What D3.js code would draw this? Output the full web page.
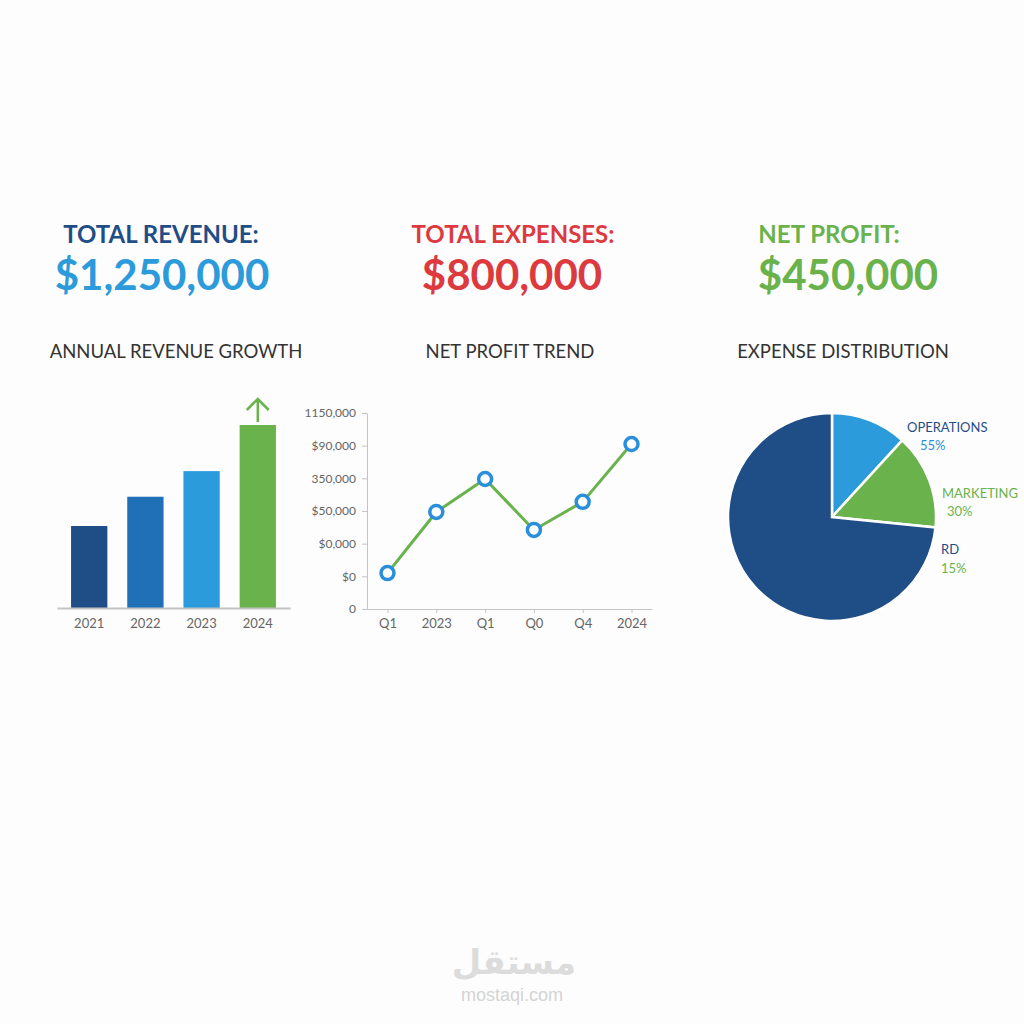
<!DOCTYPE html>
<html>
<head>
<meta charset="utf-8">
<script src="https://cdn.jsdelivr.net/npm/d3@7"></script>
<style>
  body { margin: 0; background: #fdfdfd; }
  svg { display: block; font-family: Lato, "Open Sans", sans-serif; }
  .axis path, .axis line { stroke: #c4c4c4; }
  .axis text { fill: #666; font-size: 13px; font-family: Lato, sans-serif; }
  .axis.ylab text { font-size: 12px; }
</style>
</head>
<body>
<div id="chart"></div>
<script>
// headline figures
var kpiTitles = ['TOTAL REVENUE:', 'TOTAL EXPENSES:', 'NET PROFIT:'];
var kpiValues = ['$1,250,000', '$800,000', '$450,000'];

// annual revenue growth (thousands)
var years = ['2021', '2022', '2023', '2024'];
var revenue = [560, 760, 935, 1250];

// net profit trend
var trendLabels = ['Q1', '2023', 'Q1', 'Q0', 'Q4', '2024'];
var trendValues = [110000, 297000, 398000, 242000, 328000, 505000];
var trendTicks = [0, 100000, 200000, 300000, 400000, 500000, 600000];
var trendTickLabels = ['0', '$0', '$0,000', '$50,000', '350,000', '$90,000', '1150,000'];

// expense distribution (slice sizes as drawn, labels as printed)
var expenseNames = ['OPERATIONS', 'MARKETING', 'RD'];
var expenseShares = [11.8, 14.8, 73.4];
var expenseLabels = ['55%', '30%', '15%'];

var darkBlue = '#1f4e87', midBlue = '#1f70b6', lightBlue = '#2b9bdb',
  green = '#6ab24c', red = '#dc3a3e';

var svg = d3.select('#chart').append('svg')
  .attr('width', 1024)
  .attr('height', 1024);

svg.append('rect').attr('width', 1024).attr('height', 1024).attr('fill', '#fdfdfd');

// ---- KPI header ----
var kpiX = [161, 513, 829];
var kpiValX = [162, 512, 848];
var titleColors = [darkBlue, red, green];
var valueColors = [lightBlue, red, green];
for (var i = 0; i < kpiTitles.length; i++) {
  svg.append('text')
    .attr('x', kpiX[i]).attr('y', 243)
    .attr('text-anchor', 'middle')
    .style('font-size', '24px').style('font-weight', 700)
    .style('fill', titleColors[i])
    .text(kpiTitles[i]);
  svg.append('text')
    .attr('x', kpiValX[i]).attr('y', 290)
    .attr('text-anchor', 'middle')
    .style('font-size', '42px').style('font-weight', 700)
    .style('fill', valueColors[i])
    .text(kpiValues[i]);
}

var subTitles = ['ANNUAL REVENUE GROWTH', 'NET PROFIT TREND', 'EXPENSE DISTRIBUTION'];
var subX = [176, 510, 843];
for (var i = 0; i < subTitles.length; i++) {
  svg.append('text')
    .attr('x', subX[i]).attr('y', 358)
    .attr('text-anchor', 'middle')
    .style('font-size', '18.5px')
    .style('fill', '#333')
    .text(subTitles[i]);
}

// ---- bar chart ----
var xb = d3.scaleBand().domain(years).range([57, 290]).paddingInner(0.354).paddingOuter(0.25);
var yb = d3.scaleLinear().domain([0, 1250]).range([608, 425]);
var barColors = [darkBlue, midBlue, lightBlue, green];

svg.selectAll('.bar').data(revenue).enter().append('rect')
  .attr('class', 'bar')
  .attr('x', function(d, i) { return xb(years[i]); })
  .attr('y', function(d) { return yb(d); })
  .attr('width', xb.bandwidth())
  .attr('height', function(d) { return yb(0) - yb(d); })
  .style('fill', function(d, i) { return barColors[i]; });

var barAxis = svg.append('g').attr('class', 'axis')
  .attr('transform', 'translate(0,' + yb(0) + ')')
  .call(d3.axisBottom(xb).tickSize(0).tickSizeOuter(0).tickPadding(11));
barAxis.select('.domain').style('stroke-width', 2);

// growth arrow above the last bar
var ax = xb(years[3]) + xb.bandwidth() / 2,
  atop = yb(revenue[3]) - 26,
  abot = yb(revenue[3]) - 3;
svg.append('path')
  .attr('d', 'M' + ax + ',' + abot + 'V' + atop + 'M' + (ax - 11) + ',' + (atop + 11) + 'L' + ax + ',' + atop + 'L' + (ax + 11) + ',' + (atop + 11))
  .style('fill', 'none').style('stroke', green).style('stroke-width', 2.5);

// ---- line chart ----
var xl = d3.scalePoint().domain(d3.range(trendLabels.length)).range([367, 652]).padding(0.42);
var yl = d3.scaleLinear().domain([0, 600000]).range([609, 413]);

svg.append('g').attr('class', 'axis')
  .attr('transform', 'translate(0,' + yl(0) + ')')
  .call(d3.axisBottom(xl).tickSize(4).tickSizeOuter(0).tickPadding(6)
    .tickFormat(function(d) { return trendLabels[d]; }));

svg.append('g').attr('class', 'axis ylab')
  .attr('transform', 'translate(' + xl.range()[0] + ',0)')
  .call(d3.axisLeft(yl).tickValues(trendTicks).tickSize(5).tickSizeOuter(0).tickPadding(6)
    .tickFormat(function(d, i) { return trendTickLabels[i]; }));

var line = d3.line()
  .x(function(d, i) { return xl(i); })
  .y(function(d) { return yl(d); });

svg.append('path').datum(trendValues)
  .attr('d', line)
  .style('fill', 'none').style('stroke', green).style('stroke-width', 3);

svg.selectAll('.dot').data(trendValues).enter().append('circle')
  .attr('class', 'dot')
  .attr('cx', function(d, i) { return xl(i); })
  .attr('cy', function(d) { return yl(d); })
  .attr('r', 6.5)
  .style('fill', '#fff').style('stroke', '#2a8fdb').style('stroke-width', 3.5);

// ---- pie chart ----
var pie = d3.pie().sort(null).value(function(d) { return d; });
var arc = d3.arc().innerRadius(0).outerRadius(104);
var pieColors = [lightBlue, green, darkBlue];
var pg = svg.append('g').attr('transform', 'translate(832,517)');
pg.selectAll('path').data(pie(expenseShares)).enter().append('path')
  .attr('d', arc)
  .style('fill', function(d, i) { return pieColors[i]; })
  .style('stroke', '#fff').style('stroke-width', 2.5);

var nameX = [907, 942, 941], nameY = [432, 498, 554];
var pctX = [920, 947, 941], pctY = [450, 516, 573];
var nameColors = [darkBlue, green, darkBlue];
var pctColors = ['#2a8fdb', green, green];
for (var i = 0; i < expenseNames.length; i++) {
  svg.append('text').attr('x', nameX[i]).attr('y', nameY[i])
    .style('font-size', '13px').style('fill', nameColors[i])
    .text(expenseNames[i]);
  svg.append('text').attr('x', pctX[i]).attr('y', pctY[i])
    .style('font-size', '13px').style('fill', pctColors[i])
    .text(expenseLabels[i]);
}

// ---- watermark ----
svg.append('text').attr('x', 514).attr('y', 974)
  .attr('text-anchor', 'middle')
  .style('font-family', '"DejaVu Sans", sans-serif')
  .style('font-size', '34px').style('font-weight', 700)
  .style('fill', '#dcdcdc')
  .text('مستقل');
svg.append('text').attr('x', 512).attr('y', 1001)
  .attr('text-anchor', 'middle')
  .style('font-family', 'Arial, "Liberation Sans", sans-serif')
  .style('font-size', '18px')
  .style('fill', '#d4d4d4')
  .text('mostaqi.com');
</script>
</body>
</html>
